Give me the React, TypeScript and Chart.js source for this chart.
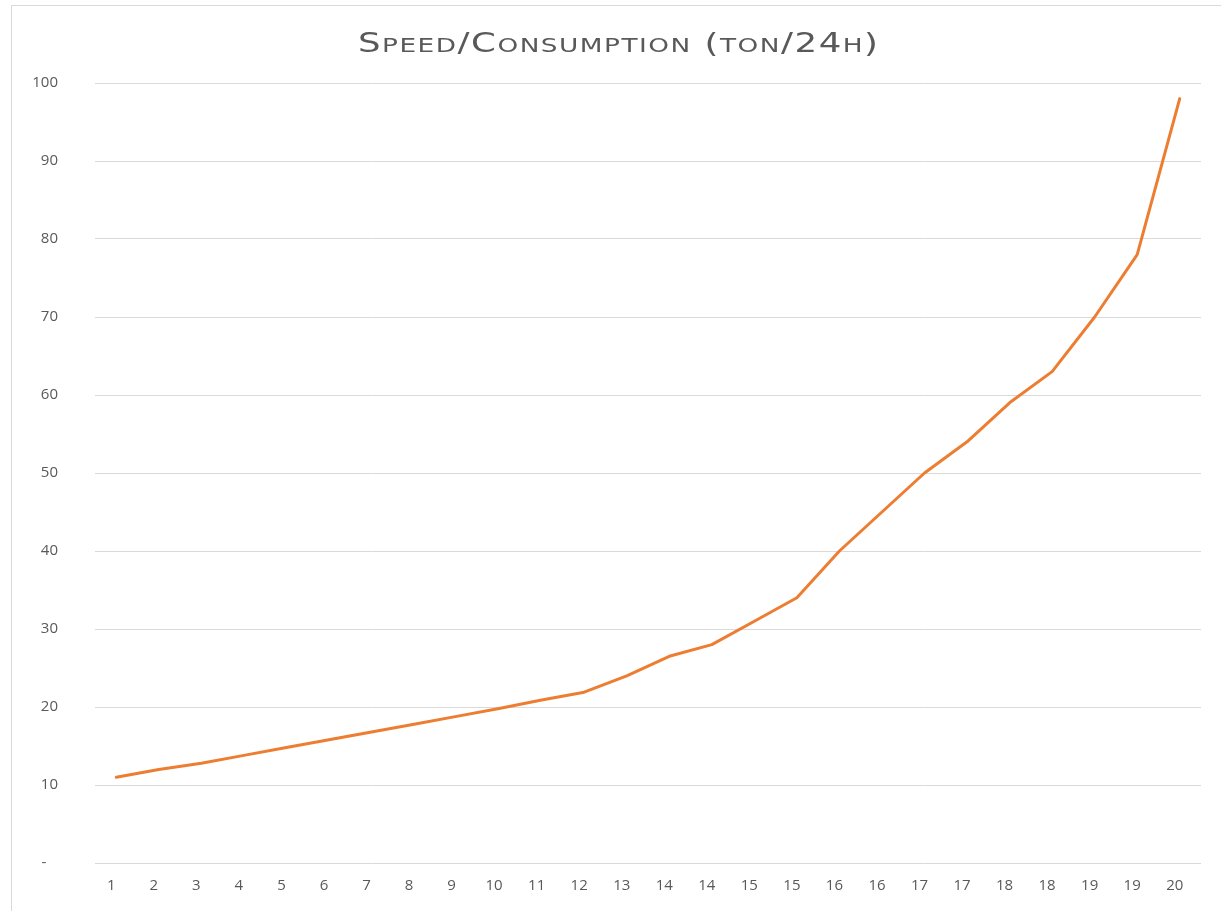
import React, { useEffect, useRef } from "react";
import { Chart, registerables } from "chart.js";

Chart.register(...registerables);

const titleText = "Speed/Consumption (ton/24h)";
const categories = ["1","2","3","4","5","6","7","8","9","10","11","12","13","14","14","15","15","16","16","17","17","18","18","19","19","20"];
const consumption = [11, 12, 12.8, 13.8, 14.8, 15.8, 16.8, 17.8, 18.8, 19.8, 20.9, 21.9, 24, 26.5, 28, 31, 34, 40, 45, 50, 54, 59, 63, 70, 78, 98];
const yMin = 0;
const yMax = 100;
const yStep = 10;

// Draws the title in small caps (capitals full size, lower case as smaller capitals), in a wide face
const smallCapsTitle = {
  id: "smallCapsTitle",
  afterDraw(chart: any) {
    const ctx = chart.ctx as CanvasRenderingContext2D;
    const big = 27;
    const small = 20;
    const family = "DejaVu Sans";
    const cx = 618;
    const baseline = 52;
    const targetWidth = 520;
    const spacing = 1.5;
    ctx.save();
    ctx.fillStyle = "#595959";
    ctx.textBaseline = "alphabetic";
    ctx.textAlign = "left";
    const parts: { t: string; s: number }[] = [];
    for (const ch of titleText) {
      const isLower = ch !== ch.toUpperCase();
      parts.push({ t: isLower ? ch.toUpperCase() : ch, s: isLower ? small : big });
    }
    let glyphs = 0;
    for (const p of parts) {
      ctx.font = `normal ${p.s}px ${family}`;
      glyphs += ctx.measureText(p.t).width;
    }
    const gaps = spacing * (parts.length - 1);
    const sx = (targetWidth - gaps) / glyphs;
    let x = cx - targetWidth / 2;
    for (const p of parts) {
      ctx.font = `normal ${p.s}px ${family}`;
      const w = ctx.measureText(p.t).width;
      ctx.save();
      ctx.translate(x, baseline);
      ctx.scale(sx, 1);
      ctx.fillText(p.t, 0, 0);
      ctx.restore();
      x += w * sx + spacing;
    }
    ctx.restore();
  },
};

export default function App() {
  const ref = useRef<HTMLCanvasElement | null>(null);
  useEffect(() => {
    if (!ref.current) return;
    const chart = new Chart(ref.current, {
      type: "line",
      data: {
        labels: categories,
        datasets: [
          {
            label: "Consumption",
            data: consumption,
            borderColor: "#ED7D31",
            backgroundColor: "#ED7D31",
            borderWidth: 3,
            pointRadius: 0,
            tension: 0,
            borderCapStyle: "round",
            borderJoinStyle: "round",
          },
        ],
      },
      options: {
        responsive: false,
        animation: false,
        layout: { padding: { left: 0, right: 20, top: 83, bottom: 0 } },
        plugins: {
          legend: { display: false },
          tooltip: { enabled: false },
          title: { display: false },
        },
        scales: {
          x: {
            type: "category",
            offset: true,
            grid: { display: false, drawTicks: false },
            border: { display: false },
            ticks: {
              color: "#595959",
              font: { family: "Open Sans", size: 15 },
              padding: 14,
              autoSkip: false,
              maxRotation: 0,
              labelOffset: -5,
            },
            afterFit: (s: any) => { s.height = 48; },
          },
          y: {
            min: yMin,
            max: yMax,
            grid: { color: "#d9d9d9", lineWidth: 1, drawTicks: false },
            border: { display: false },
            ticks: {
              stepSize: yStep,
              color: "#595959",
              font: { family: "Open Sans", size: 15 },
              padding: 37,
              callback: (v: any) => (Number(v) === 0 ? "-   " : String(v)),
            },
            afterFit: (s: any) => { s.width = 95; },
          },
        },
      },
      plugins: [smallCapsTitle],
    });
    return () => chart.destroy();
  }, []);

  return (
    <div style={{ position: "fixed", left: 0, top: 0, width: 1221, height: 911, overflow: "hidden", background: "#fff" }}>
      <div style={{ position: "absolute", left: 11, top: 5, width: 1240, height: 940, border: "1px solid #d9d9d9", boxSizing: "border-box" }} />
      <canvas ref={ref} width={1221} height={911} style={{ position: "absolute", left: 0, top: 0, width: 1221, height: 911 }} />
    </div>
  );
}
